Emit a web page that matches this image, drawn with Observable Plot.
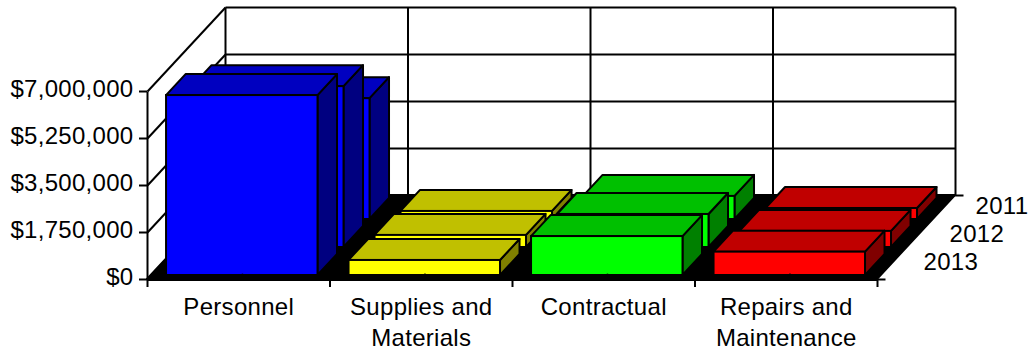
<!DOCTYPE html>
<html>
<head>
<meta charset="utf-8">
<style>html,body{margin:0;padding:0;background:#fff}</style>
<script src="https://cdn.jsdelivr.net/npm/d3@7"></script>
<script src="https://cdn.jsdelivr.net/npm/@observablehq/plot@0.6"></script>
</head>
<body>
<div id="chart"></div>
<script>
const categories = ["Personnel", "Supplies and\nMaterials", "Contractual", "Repairs and\nMaintenance"];
const years = ["2013", "2012", "2011"];
const values2013 = [6700000, 560000, 1450000, 870000];
const values2012 = [5990000, 450000, 1230000, 600000];
const values2011 = [4500000, 300000, 860000, 410000];
const seriesValues = [values2013, values2012, values2011];
const yTicks = [0, 1750000, 3500000, 5250000, 7000000];
const frontColors = ["#0000ff", "#ffff00", "#00ff00", "#ff0000"];
const topColors = ["#0000c0", "#c0c000", "#00c000", "#c00000"];
const sideColors = ["#000080", "#808000", "#008000", "#800000"];

// Oblique projection, in data units: full depth shifts by these amounts.
const depthX = 78 / 182.5;             // category units
const depthY = 84 / 47 * 1750000;      // dollars
const barInset = 0.084, barWidth = 0.83;
const barFront = i => (4 + 28 * i) / 84, barBack = i => (25 + 28 * i) / 84;
const px = (c, d) => c + d * depthX;
const py = (v, d) => v + d * depthY;
const n = categories.length;
const yMax = yTicks[yTicks.length - 1];
const tickLen = 8 / 182.5;

const link = (rows, w = 2) => Plot.link(rows, {x1: "x1", y1: "y1", x2: "x2", y2: "y2", stroke: "black", strokeWidth: w});

const marks = [];

// walls
const wallLines = [];
for (const t of yTicks) {
  wallLines.push({x1: px(0, 0), y1: py(t, 0), x2: px(0, 1), y2: py(t, 1)});
  wallLines.push({x1: px(0, 1), y1: py(t, 1), x2: px(n, 1), y2: py(t, 1)});
}
for (let c = 0; c <= n; c++) wallLines.push({x1: px(c, 1), y1: py(0, 1), x2: px(c, 1), y2: py(yMax, 1)});
marks.push(link(wallLines));

// floor
marks.push(Plot.areaX([
  {x1: px(0, 0), x2: px(n, 0), y: py(0, 0)},
  {x1: px(0, 1), x2: px(n, 1), y: py(0, 1)}
], {x1: "x1", x2: "x2", y: "y", fill: "black", stroke: "black", strokeWidth: 2}));

// bars, back series first
for (let s = years.length - 1; s >= 0; s--) {
  const f = barFront(s), b = barBack(s);
  const fronts = [], tops = [], sides = [];
  seriesValues[s].forEach((v, c) => {
    const l = c + barInset, r = l + barWidth;
    fronts.push({x1: px(l, f), x2: px(r, f), y1: py(0, f), y2: py(v, f), fill: frontColors[c]});
    tops.push({id: c, x1: px(l, f), x2: px(r, f), y: py(v, f), fill: topColors[c]});
    tops.push({id: c, x1: px(l, b), x2: px(r, b), y: py(v, b), fill: topColors[c]});
    sides.push({id: c, x: px(r, f), y1: py(0, f), y2: py(v, f), fill: sideColors[c]});
    sides.push({id: c, x: px(r, b), y1: py(0, b), y2: py(v, b), fill: sideColors[c]});
  });
  marks.push(Plot.areaY(sides, {x: "x", y1: "y1", y2: "y2", z: "id", fill: "fill", stroke: "black", strokeWidth: 2}));
  marks.push(Plot.areaX(tops, {x1: "x1", x2: "x2", y: "y", z: "id", fill: "fill", stroke: "black", strokeWidth: 2}));
  marks.push(Plot.rect(fronts, {x1: "x1", x2: "x2", y1: "y1", y2: "y2", fill: "fill", stroke: "black", strokeWidth: 2}));
}

// small notches at the category centres
marks.push(link(categories.map((_, c) => ({
  x1: px(c + 0.5, barFront(0)), y1: py(0, barFront(0)),
  x2: px(c + 0.5, barFront(0)), y2: py(70000, barFront(0))
})), 1.5));

// axes
marks.push(link([{x1: 0, y1: 0, x2: 0, y2: yMax}]));
marks.push(link([{x1: 0, y1: 0, x2: n, y2: 0}], 3));
marks.push(Plot.axisY({ticks: yTicks, tickFormat: () => "", tickSize: 8, strokeWidth: 2, label: null}));
marks.push(Plot.axisY({ticks: yTicks, tickFormat: d => "$" + d3.format(",")(d), tickSize: 0, tickPadding: 14, dy: -2, fontSize: 24, label: null}));
marks.push(Plot.axisX({ticks: d3.range(n + 1), tickFormat: () => "", tickSize: 8, strokeWidth: 2, label: null}));
marks.push(Plot.axisX({ticks: categories.map((_, c) => c + 0.5), tickFormat: d => categories[Math.floor(d)], tickSize: 0, tickPadding: 13, lineHeight: 1.3, fontSize: 24, label: null}));

// depth axis
marks.push(link([
  {x1: px(n, 0), y1: py(0, 0), x2: px(n, 0) + tickLen, y2: py(0, 0)},
  {x1: px(n, 1), y1: py(0, 1), x2: px(n, 1) + tickLen, y2: py(0, 1)}
]));
marks.push(Plot.text(years.map((y, i) => ({
  label: y, x: px(n, (14 + 28 * i) / 84), y: py(0, (14 + 28 * i) / 84)
})), {x: "x", y: "y", text: "label", textAnchor: "start", dx: 33, dy: -3, fontSize: 24, fill: "black"}));

const chart = Plot.plot({
  width: 1034, height: 351,
  marginLeft: 147, marginRight: 157, marginTop: 91, marginBottom: 72,
  x: {type: "linear", domain: [0, n]},
  y: {type: "linear", domain: [0, yMax]},
  style: {fontFamily: "'Liberation Sans', Arial, sans-serif", letterSpacing: "0.3px", color: "black", background: "white", overflow: "visible"},
  marks
});
document.getElementById("chart").appendChild(chart);
</script>
</body>
</html>
